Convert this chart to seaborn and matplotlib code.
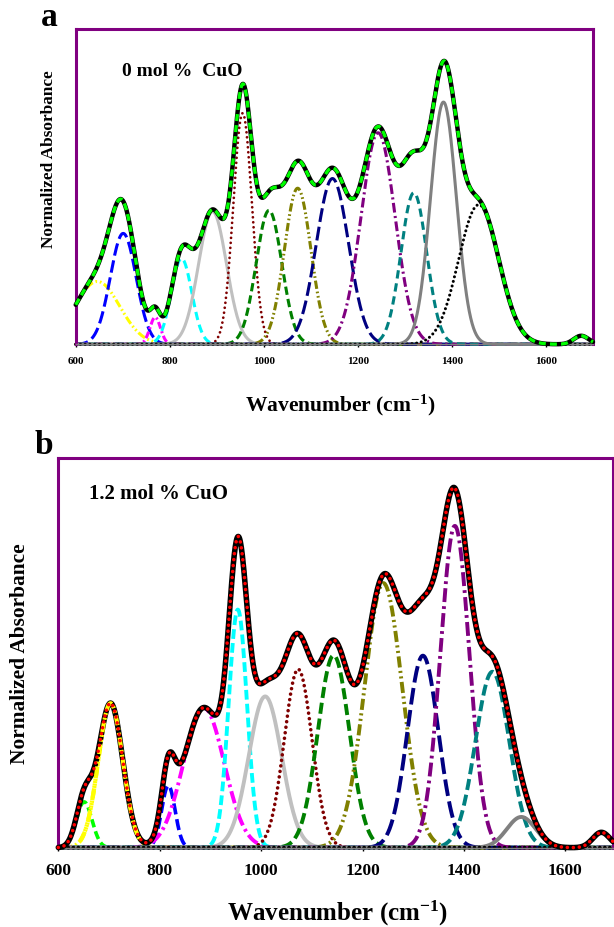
import numpy as np
import pandas as pd
import matplotlib
matplotlib.use("Agg")
import matplotlib.pyplot as plt
import seaborn as sns

sns.set_theme(style="white")
plt.rcParams['font.family'] = ['Liberation Serif', 'DejaVu Serif']
plt.rcParams['font.weight'] = 'bold'
plt.rcParams['text.color'] = 'black'
plt.rcParams['axes.labelcolor'] = 'black'
plt.rcParams['xtick.color'] = 'black'
plt.rcParams['ytick.color'] = 'black'
plt.rcParams['mathtext.fontset'] = 'custom'
plt.rcParams['mathtext.rm'] = 'Liberation Serif:bold'
plt.rcParams['mathtext.it'] = 'Liberation Serif:bold'
plt.rcParams['mathtext.bf'] = 'Liberation Serif:bold'
plt.rcParams['mathtext.default'] = 'rm'
plt.rcParams['lines.scale_dashes'] = False

# ---------------- data (Gaussian band parameters) ----------------
# panel a : 0 mol % CuO  (last band is the small 1675 feature, only part of the envelope)
a_centers = [646, 701, 769, 825, 891, 955, 1011, 1072, 1146, 1243, 1319, 1382, 1457, 1675]
a_heights = [0.221, 0.390, 0.095, 0.302, 0.467, 0.813, 0.471, 0.549, 0.583, 0.744, 0.533, 0.852, 0.491, 0.030]
a_widths = [47.6, 27.5, 11.3, 21.8, 29.6, 19.8, 27.3, 28.2, 34.4, 36.2, 27.4, 27.5, 42.8, 15.8]

# panel b : 1.2 mol % CuO
b_centers = [651, 703, 817, 887, 954, 1008, 1073, 1143, 1241, 1319, 1382, 1456, 1513, 1671]
b_heights = [0.128, 0.404, 0.174, 0.391, 0.666, 0.423, 0.499, 0.538, 0.740, 0.537, 0.900, 0.492, 0.086, 0.043]
b_widths = [15.5, 24.2, 13.2, 40.2, 18.1, 32.5, 27.4, 31.1, 37.3, 30.5, 28.6, 33.3, 28.6, 16.9]

tick_values = [600, 800, 1000, 1200, 1400, 1600]
label_a = '0 mol %  CuO'
label_b = '1.2 mol % CuO'


def band(x, c, h, s):
    return h * np.exp(-0.5 * ((x - c) / s) ** 2)


W, H = 614, 927
fig = plt.figure(figsize=(W / 100, H / 100), dpi=100)


def box(l, t, r, b):
    return [l / W, 1 - b / H, (r - l) / W, (b - t) / H]


def draw(ax, x, y, color, ls, lw, z=2, cap='butt'):
    df = pd.DataFrame({'Wavenumber': x, 'Absorbance': y})
    sns.lineplot(data=df, x='Wavenumber', y='Absorbance', ax=ax, color=color, linestyle=ls,
                 linewidth=lw, estimator=None, sort=False, errorbar=None, zorder=z,
                 clip_on=False, dash_capstyle=cap, solid_capstyle='round')


def style_axes(ax, xmax, tick_size, pad, ytop):
    ax.set_xlim(600, xmax)
    ax.set_ylim(0, ytop)
    ax.set_yticks([])
    ax.set_xticks(tick_values)
    ax.set_xticklabels([str(v) for v in tick_values], fontweight='bold', color='black')
    ax.tick_params(axis='x', direction='out', length=2.5, width=1, colors='black',
                   pad=pad, labelsize=tick_size, bottom=True)
    for side in ['left', 'top', 'right']:
        ax.spines[side].set_color('#800080')
        ax.spines[side].set_linewidth(2.2)
    ax.spines['bottom'].set_color('#808080')
    ax.spines['bottom'].set_linewidth(1)
    ax.set_xlabel('')
    ax.set_ylabel('')
    ax.grid(False)
    ax.set_facecolor('white')


# ---------------- panel a ----------------
axA = fig.add_axes(box(75.7, 29.3, 593, 344.3))
xa = np.linspace(600, 1700, 1101)
a_styles = [
    ('#FFFF00', (0, (6, 2, 1.2, 2, 1.2, 2)), 2.2, 'butt'),
    ('#0000FF', (0, (9, 3.5)), 2.2, 'butt'),
    ('#FF00FF', (0, (5, 2, 1.5, 2)), 2.2, 'butt'),
    ('#00FFFF', (0, (6, 3.5)), 2.2, 'butt'),
    ('#C0C0C0', '-', 2.2, 'butt'),
    ('#800000', (0, (0.01, 3.6)), 2.0, 'round'),
    ('#008000', (0, (6, 3)), 2.2, 'butt'),
    ('#808000', (0, (6, 2, 1.2, 2, 1.2, 2)), 2.2, 'butt'),
    ('#000080', (0, (10, 3.5)), 2.2, 'butt'),
    ('#800080', (0, (7, 2.5, 1.5, 2.5)), 2.2, 'butt'),
    ('#008080', (0, (6, 3.5)), 2.2, 'butt'),
    ('#808080', '-', 2.2, 'butt'),
    ('#000000', (0, (0.01, 3.4)), 2.2, 'round'),
]
ya = np.zeros_like(xa)
for c, h, s in zip(a_centers, a_heights, a_widths):
    ya = ya + band(xa, c, h, s)
for i, (col, ls, lw, cap) in enumerate(a_styles):
    draw(axA, xa, band(xa, a_centers[i], a_heights[i], a_widths[i]), col, ls, lw,
         z=2 + i * 0.01, cap=cap)
draw(axA, xa, ya, '#000000', '-', 3.2, z=3)
draw(axA, xa, ya, '#00FF00', (0, (5, 3)), 2.4, z=3.1)
style_axes(axA, 1700, 8, 6.5, 1.108)
fig.text(121.7 / W, 1 - 71.7 / H, label_a, fontsize=14, fontweight='bold',
         ha='left', va='center', color='black')

fig.text(49 / W, 1 - 18 / H, 'a', fontsize=24, fontweight='bold', ha='center', va='center',
         color='black')
fig.text(340 / W, 1 - 405 / H, 'Wavenumber (cm$^{-1}$)', fontsize=15.5, ha='center',
         va='center', color='black')
fig.text(49 / W, 1 - 159 / H, 'Normalized Absorbance', fontsize=12.4, fontweight='bold',
         rotation=90, ha='center', va='center', color='black')

# ---------------- panel b ----------------
axB = fig.add_axes(box(58.3, 458.3, 613, 847.7))
xbmax = 600 + (613 - 58.3) / 0.5071
xb = np.linspace(600, xbmax, 1101)
b_styles = [
    ('#00FF00', (0, (6, 3)), 2.6, 'butt'),
    ('#FFFF00', (0, (7, 2, 1.5, 2, 1.5, 2)), 3.0, 'butt'),
    ('#0000FF', (0, (8, 3.5)), 2.6, 'butt'),
    ('#FF00FF', (0, (9, 3, 2, 3)), 2.8, 'butt'),
    ('#00FFFF', (0, (7, 3)), 2.8, 'butt'),
    ('#C0C0C0', '-', 2.8, 'butt'),
    ('#800000', (0, (0.01, 4.0)), 2.6, 'round'),
    ('#008000', (0, (8, 3.5)), 2.8, 'butt'),
    ('#808000', (0, (8, 2.5, 1.5, 2.5, 1.5, 2.5)), 2.8, 'butt'),
    ('#000080', (0, (12, 4)), 2.8, 'butt'),
    ('#800080', (0, (10, 3, 2, 3)), 2.8, 'butt'),
    ('#008080', (0, (8, 3.5)), 2.8, 'butt'),
    ('#808080', '-', 2.8, 'butt'),
]
yb = np.zeros_like(xb)
for c, h, s in zip(b_centers, b_heights, b_widths):
    yb = yb + band(xb, c, h, s)
for i, (col, ls, lw, cap) in enumerate(b_styles):
    draw(axB, xb, band(xb, b_centers[i], b_heights[i], b_widths[i]), col, ls, lw,
         z=2 + i * 0.01, cap=cap)
draw(axB, xb, np.zeros_like(xb), '#000000', (0, (0.01, 3.6)), 2.8, z=2.5, cap='round')
draw(axB, xb, yb, '#000000', '-', 4.0, z=3)
# the yellow 700 band is drawn over the envelope in the reference (only its raised part)
y_yel = band(xb, b_centers[1], b_heights[1], b_widths[1])
y_yel = np.where(y_yel > 0.02, y_yel, np.nan)
draw(axB, xb, y_yel, '#FFFF00', (0, (7, 2, 1.5, 2, 1.5, 2)), 3.0, z=3.05)
draw(axB, xb, yb, '#FF0000', (0, (0.01, 4.3)), 2.6, z=3.1, cap='round')
style_axes(axB, xbmax, 12.5, 8.4, 1.089)
fig.text(89.3 / W, 1 - 493.7 / H, label_b, fontsize=15, fontweight='bold',
         ha='left', va='center', color='black')

fig.text(44 / W, 1 - 446 / H, 'b', fontsize=24, fontweight='bold', ha='center', va='center',
         color='black')
fig.text(338 / W, 1 - 913 / H, 'Wavenumber (cm$^{-1}$)', fontsize=18, ha='center',
         va='center', color='black')
fig.text(19.6 / W, 1 - 654 / H, 'Normalized Absorbance', fontsize=15.4, fontweight='bold',
         rotation=90, ha='center', va='center', color='black')

fig.savefig('out.png', dpi=100, facecolor='white')
